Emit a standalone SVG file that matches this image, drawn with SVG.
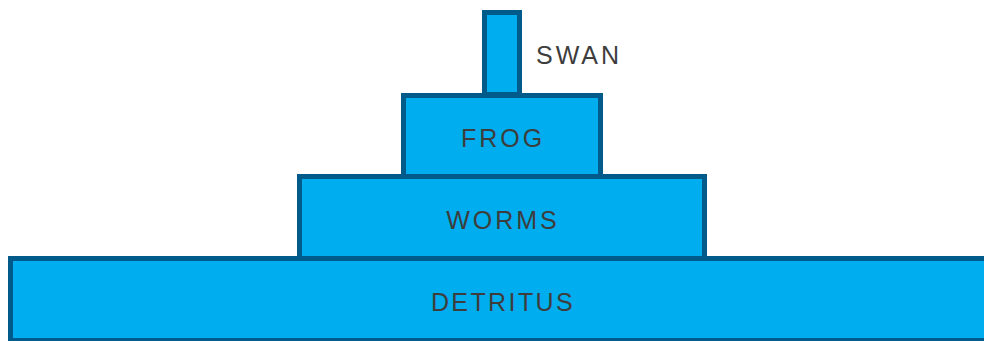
<svg xmlns="http://www.w3.org/2000/svg" width="984" height="341" viewBox="0 0 984 341">
<style>
.lvl{fill:#00ADEF;stroke:#005B8A;stroke-width:5}
.lbl{font-family:"Liberation Sans",Arial,sans-serif;font-size:25px;fill:#3D3D3D;letter-spacing:3px}
.c{text-anchor:middle}
</style>
<rect width="984" height="341" fill="#FFFFFF"/>
<g id="swan">
<rect class="lvl" x="484.5" y="12.5" width="35" height="82"/>
<text class="lbl" x="536" y="64">SWAN</text>
</g>
<g id="frog">
<rect class="lvl" x="403.5" y="95.5" width="197" height="82"/>
<text class="lbl c" x="503" y="147">FROG</text>
</g>
<g id="worms">
<rect class="lvl" x="299.5" y="176.5" width="405" height="82"/>
<text class="lbl c" x="503" y="229">WORMS</text>
</g>
<g id="detritus">
<rect class="lvl" x="10.5" y="258.5" width="1000" height="82"/>
<text class="lbl c" x="503" y="311" style="letter-spacing:2.4px">DETRITUS</text>
</g>
<g id="connectors"></g>
</svg>
